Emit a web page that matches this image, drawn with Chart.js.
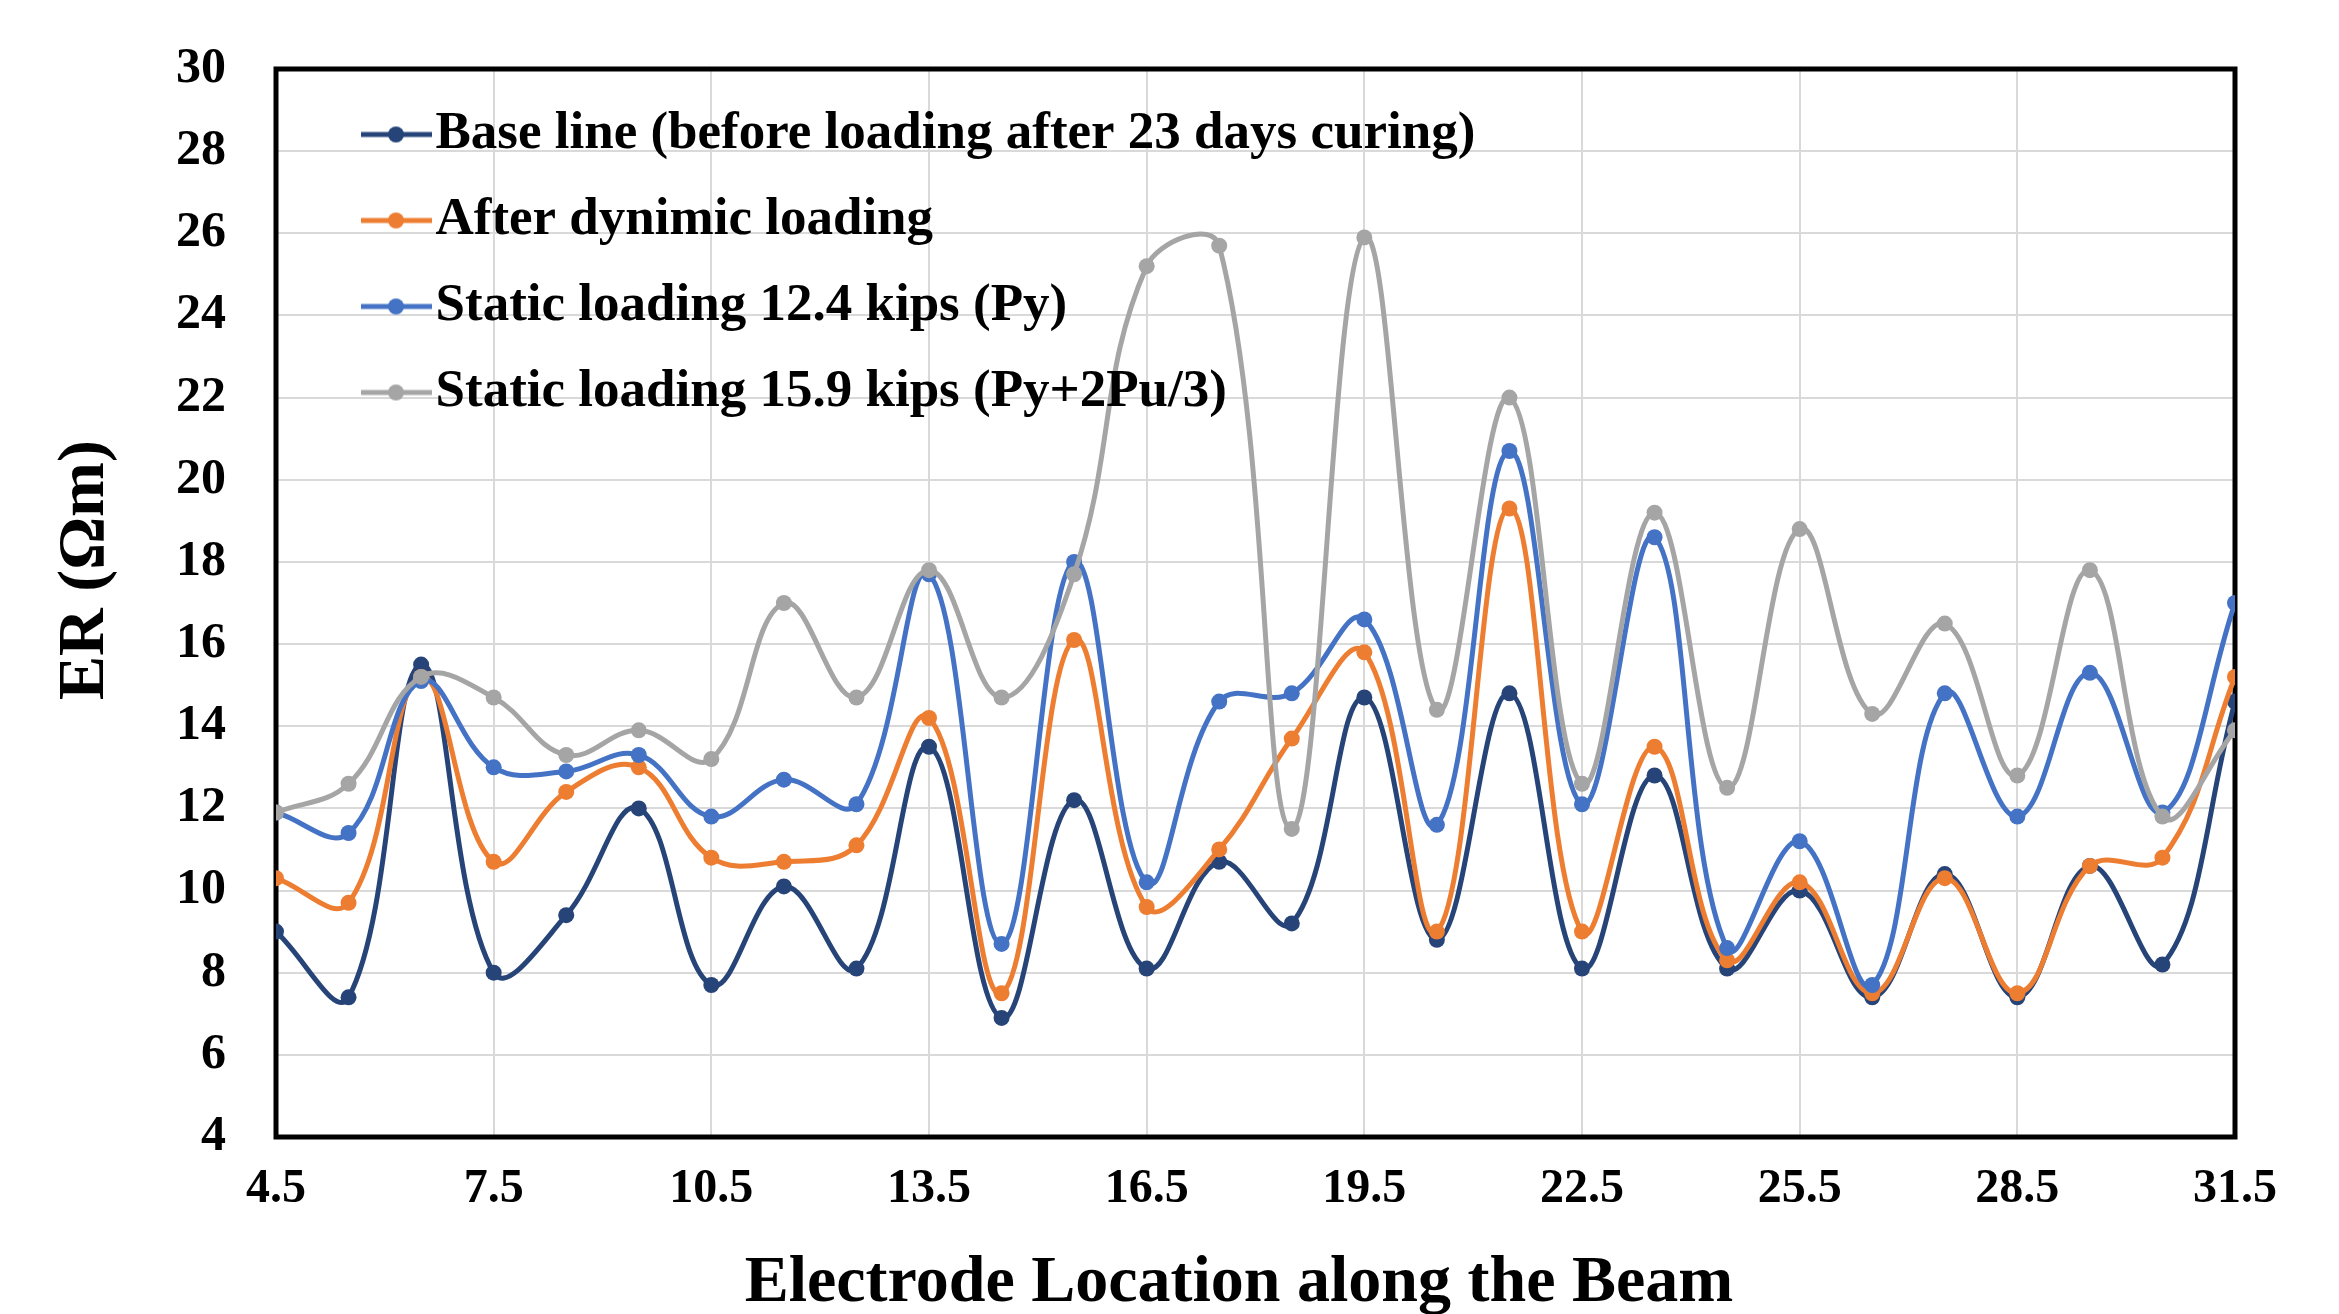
<!DOCTYPE html>
<html>
<head>
<meta charset="utf-8">
<script src="https://cdn.jsdelivr.net/npm/chart.js@4.4.1/dist/chart.umd.min.js"></script>
<style>
  html, body { margin: 0; padding: 0; background: #fff; }
  canvas { display: block; }
</style>
</head>
<body>
<canvas id="erChart" width="2339" height="1314"></canvas>
<script>
// electrode positions along the beam
var locations = [4.5, 5.5, 6.5, 7.5, 8.5, 9.5, 10.5, 11.5, 12.5, 13.5, 14.5, 15.5, 16.5, 17.5,
                 18.5, 19.5, 20.5, 21.5, 22.5, 23.5, 24.5, 25.5, 26.5, 27.5, 28.5, 29.5, 30.5, 31.5];
var xTickLabels = [4.5, 7.5, 10.5, 13.5, 16.5, 19.5, 22.5, 25.5, 28.5, 31.5];

// ER values (ohm m)
var baseLine     = [9.0, 7.4, 15.5, 8.0, 9.4, 12.0, 7.7, 10.1, 8.1, 13.5, 6.9, 12.2, 8.1, 10.7,
                    9.2, 14.7, 8.8, 14.8, 8.1, 12.8, 8.1, 10.0, 7.4, 10.4, 7.4, 10.6, 8.2, 14.6];
var afterDynamic = [10.3, 9.7, 15.2, 10.7, 12.4, 13.0, 10.8, 10.7, 11.1, 14.2, 7.5, 16.1, 9.6, 11.0,
                    13.7, 15.8, 9.0, 19.3, 9.0, 13.5, 8.3, 10.2, 7.5, 10.3, 7.5, 10.6, 10.8, 15.2];
var static124    = [11.9, 11.4, 15.1, 13.0, 12.9, 13.3, 11.8, 12.7, 12.1, 17.7, 8.7, 18.0, 10.2, 14.6,
                    14.8, 16.6, 11.6, 20.7, 12.1, 18.6, 8.6, 11.2, 7.7, 14.8, 11.8, 15.3, 11.9, 17.0];
var static159    = [11.9, 12.6, 15.2, 14.7, 13.3, 13.9, 13.2, 17.0, 14.7, 17.8, 14.7, 17.7, 25.2, 25.7,
                    11.5, 25.9, 14.4, 22.0, 12.6, 19.2, 12.5, 18.8, 14.3, 16.5, 12.8, 17.8, 11.8, 13.9];

var seriesNames = [
  'Base line (before loading after 23 days curing)',
  'After dynimic loading',
  'Static loading 12.4 kips (Py)',
  'Static loading 15.9 kips (Py+2Pu/3)'
];
var seriesValues = [baseLine, afterDynamic, static124, static159];
var seriesColors = ['#264478', '#ED7D31', '#4472C4', '#A5A5A5'];

var fontFamily = "'Liberation Serif', 'Times New Roman', serif";

function toPoints(values) {
  return values.map(function(v, i){ return { x: locations[i], y: v }; });
}

// legend icon: short line with a dot, like the excel legend
function makeIcon(color) {
  var c = document.createElement('canvas');
  c.width = 146;
  c.height = 22;
  var g = c.getContext('2d');
  g.strokeStyle = color;
  g.lineWidth = 5;
  g.beginPath();
  g.moveTo(75, 11);
  g.lineTo(146, 11);
  g.stroke();
  g.fillStyle = color;
  g.beginPath();
  g.arc(110, 11, 8, 0, Math.PI * 2);
  g.fill();
  return c;
}
var legendIcons = seriesColors.map(makeIcon);

var datasets = seriesValues.map(function(vals, i){
  return {
    label: seriesNames[i],
    data: toPoints(vals),
    borderColor: seriesColors[i],
    backgroundColor: seriesColors[i],
    borderWidth: 5,
    pointRadius: 8,
    pointBorderWidth: 0,
    tension: 0.4,
    order: seriesValues.length - i
  };
});

// plot-area frame, and legend moved above the lines (as in excel)
var frame = {
  id: 'frame',
  beforeUpdate: function(chart) {
    var lg = chart.legend;
    if (lg) {
      lg._layers = function() {
        return [{ z: 1, draw: function(){ lg.draw(); } }];
      };
    }
  },
  beforeDatasetsDraw: function(chart) {
    var a = chart.chartArea, ctx = chart.ctx;
    ctx.save();
    ctx.strokeStyle = '#000';
    ctx.lineWidth = 5;
    ctx.strokeRect(a.left, a.top, a.width, a.height);
    ctx.restore();
  }
};

var ctx = document.getElementById('erChart').getContext('2d');

new Chart(ctx, {
  type: 'line',
  data: { datasets: datasets },
  plugins: [frame],
  options: {
    responsive: false,
    animation: false,
    devicePixelRatio: 1,
    layout: { padding: { top: 69, right: 104, left: 0, bottom: 0 } },
    plugins: {
      tooltip: { enabled: false },
      legend: {
        position: 'chartArea',
        align: 'start',
        title: {
          display: true,
          text: ' ',
          padding: { top: 63, bottom: 0 },
          font: { size: 10, lineHeight: 1.2 }
        },
        labels: {
          usePointStyle: true,
          pointStyleWidth: 100,
          padding: 33,
          color: '#000',
          font: { family: fontFamily, size: 53, weight: 'bold' },
          sort: function(a, b){ return a.datasetIndex - b.datasetIndex; },
          generateLabels: function(chart) {
            var items = Chart.defaults.plugins.legend.labels.generateLabels(chart);
            items.forEach(function(it){ it.pointStyle = legendIcons[it.datasetIndex]; });
            return items;
          }
        }
      }
    },
    scales: {
      x: {
        type: 'linear',
        min: 4.5,
        max: 31.5,
        afterBuildTicks: function(scale) {
          scale.ticks = xTickLabels.map(function(v){ return { value: v }; });
        },
        afterFit: function(scale) { scale.height = 177; },
        grid: { color: '#d9d9d9', lineWidth: 2, drawTicks: false },
        border: { display: false },
        ticks: {
          padding: 24,
          color: '#000',
          maxRotation: 0,
          font: { family: fontFamily, size: 48, weight: 'bold' },
          callback: function(v){ return Number(v).toFixed(1); }
        },
        title: {
          display: true,
          text: 'Electrode Location along the Beam  ',
          color: '#000',
          padding: 0,
          font: { family: fontFamily, size: 66, weight: 'bold', lineHeight: 0.9 }
        }
      },
      y: {
        min: 4,
        max: 30,
        afterFit: function(scale) { scale.width = 276; },
        grid: {
          color: '#d9d9d9',
          lineWidth: 2,
          drawTicks: true,
          tickLength: 50,
          tickColor: 'rgba(0,0,0,0)'
        },
        border: { display: false },
        ticks: {
          stepSize: 2,
          padding: 0,
          color: '#000',
          font: { family: fontFamily, size: 50, weight: 'bold' }
        },
        title: {
          display: true,
          text: '    ER (Ωm)',
          color: '#000',
          padding: { top: 46, bottom: 0 },
          font: { family: fontFamily, size: 66, weight: 'bold' }
        }
      }
    }
  }
});
</script>
</body>
</html>
